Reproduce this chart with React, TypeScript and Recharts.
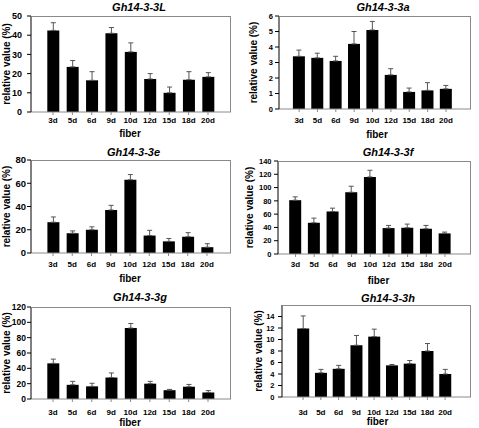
import { Bar, BarChart, ErrorBar, XAxis, YAxis } from "recharts";

const days = ["3d", "5d", "6d", "9d", "10d", "12d", "15d", "18d", "20d"];

const values3L = [42.5, 23.5, 16.5, 41, 31.3, 17.2, 10, 16.8, 18.3];
const errors3L = [4, 3.3, 4.5, 3, 4.7, 2.8, 3, 4.2, 2.2];
const ticks3L = [0, 10, 20, 30, 40, 50];

const values3a = [3.4, 3.3, 3.1, 4.2, 5.1, 2.2, 1.1, 1.2, 1.3];
const errors3a = [0.4, 0.3, 0.3, 0.8, 0.55, 0.4, 0.25, 0.5, 0.22];
const ticks3a = [0, 1, 2, 3, 4, 5, 6];

const values3e = [26.5, 17, 20, 37, 63, 15, 10, 14, 5];
const errors3e = [4.5, 2, 2.5, 4, 4.5, 4.5, 2.5, 3.5, 3];
const ticks3e = [0, 20, 40, 60, 80];

const values3f = [81, 47, 64, 93, 116, 39, 39.5, 38, 31];
const errors3f = [5, 7, 5, 9, 10, 4, 5.5, 5, 2];
const ticks3f = [0, 20, 40, 60, 80, 100, 120, 140];

const values3g = [46.5, 18.5, 16.5, 28, 92.5, 20, 11.5, 16, 8.5];
const errors3g = [5.5, 4.5, 4, 6, 6, 3, 1, 3, 2.5];
const ticks3g = [0, 20, 40, 60, 80, 100, 120];

const values3h = [11.9, 4.2, 4.9, 9, 10.5, 5.5, 5.8, 8, 4];
const errors3h = [2.2, 0.6, 0.6, 1.7, 1.3, 0.15, 0.55, 1.3, 0.8];
const ticks3h = [0, 2, 4, 6, 8, 10, 12, 14];

type Panel = {
  title: string;
  values: number[];
  errors: number[];
  ticks: number[];
  max: number;
  box: [number, number, number, number]; // left, top, width, height
  plot: [number, number, number, number]; // x0, y0, x1, y1
  pad: [number, number];
  titleX: number;
  titleBase: number;
  fiberBase: number;
  fiberDx: number;
  yLabelX: number;
  xTickGap: number;
  yTickGap: number;
  yTickFont: number;
};

const panels: Panel[] = [
  {
    title: "Gh14-3-3L", values: values3L, errors: errors3L, ticks: ticks3L, max: 50,
    box: [0, 0, 240, 143], plot: [31, 16, 231, 112], pad: [12.3, 13.3],
    titleX: 139, titleBase: 10.7, fiberBase: 137, fiberDx: -1, yLabelX: 6, xTickGap: 5, yTickGap: 9, yTickFont: 9,
  },
  {
    title: "Gh14-3-3a", values: values3a, errors: errors3a, ticks: ticks3a, max: 6,
    box: [240, 0, 239, 143], plot: [279, 16, 471, 109], pad: [10.9, 15.8],
    titleX: 383, titleBase: 10.7, fiberBase: 137.5, fiberDx: 2, yLabelX: 253, xTickGap: 8, yTickGap: 6, yTickFont: 7.5,
  },
  {
    title: "Gh14-3-3e", values: values3e, errors: errors3e, ticks: ticks3e, max: 80,
    box: [0, 143, 240, 143], plot: [31, 160, 231, 253], pad: [12.4, 14.4],
    titleX: 133.5, titleBase: 155.7, fiberBase: 282, fiberDx: -1, yLabelX: 6, xTickGap: 8, yTickGap: 5, yTickFont: 9.5,
  },
  {
    title: "Gh14-3-3f", values: values3f, errors: errors3f, ticks: ticks3f, max: 140,
    box: [240, 143, 239, 143], plot: [278, 161, 471, 254], pad: [8.2, 16.7],
    titleX: 388, titleBase: 155.7, fiberBase: 283.5, fiberDx: 4, yLabelX: 249, xTickGap: 7, yTickGap: 6.5, yTickFont: 7.5,
  },
  {
    title: "Gh14-3-3g", values: values3g, errors: errors3g, ticks: ticks3g, max: 120,
    box: [0, 286, 240, 142], plot: [31, 307, 231, 399], pad: [12.3, 13.3],
    titleX: 140, titleBase: 301, fiberBase: 425.5, fiberDx: -1, yLabelX: 6, xTickGap: 10, yTickGap: 5, yTickFont: 8.5,
  },
  {
    title: "Gh14-3-3h", values: values3h, errors: errors3h, ticks: ticks3h, max: 16,
    box: [240, 286, 239, 142], plot: [282, 305, 471, 397], pad: [12.2, 17],
    titleX: 388, titleBase: 302, fiberBase: 425, fiberDx: 1, yLabelX: 258, xTickGap: 12, yTickGap: 7.5, yTickFont: 7.5,
  },
];

const frame = "#8a8a8a";

function GenePanel({ p }: { p: Panel }) {
  const [left, top, width, height] = p.box;
  const [x0, y0, x1, y1] = p.plot;
  const data = days.map((day, i) => ({ day, value: p.values[i], err: [0, p.errors[i]] }));
  return (
    <>
      <div style={{ position: "absolute", left, top, width, height }}>
        <BarChart
          width={width}
          height={height}
          data={data}
          margin={{ top: y0 - top, right: left + width - x1, bottom: 0, left: 0 }}
        >
          <XAxis
            dataKey="day"
            interval={0}
            height={top + height - y1}
            padding={{ left: p.pad[0], right: p.pad[1] }}
            stroke={frame}
            tickSize={3}
            tickMargin={p.xTickGap - 3}
            tick={{ fontSize: 8, fill: "#000" }}
            label={{ value: "fiber", position: "insideBottom", offset: top + height - p.fiberBase, dx: p.fiberDx, fontSize: 10, fill: "#000" }}
          />
          <YAxis
            type="number"
            domain={[0, p.max]}
            ticks={p.ticks}
            interval={0}
            width={x0 - left}
            stroke="#000"
            tickSize={4}
            tickMargin={p.yTickGap - 4}
            tick={{ fontSize: p.yTickFont, fill: "#000" }}
            label={{ value: "relative value (%)", angle: -90, position: "insideLeft", offset: p.yLabelX - left, fontSize: 10, fill: "#000", style: { textAnchor: "middle" } }}
          />
          <Bar dataKey="value" fill="#000" barSize={12} isAnimationActive={false}>
            <ErrorBar dataKey="err" direction="y" width={2.5} stroke="#555" strokeWidth={1} isAnimationActive={false} />
          </Bar>
        </BarChart>
      </div>
      <div
        style={{
          position: "absolute",
          left: x0,
          top: y0,
          width: x1 - x0,
          height: y1 - y0,
          boxSizing: "border-box",
          borderTop: `1px solid ${frame}`,
          borderRight: `1px solid ${frame}`,
          pointerEvents: "none",
        }}
      />
      <div
        style={{
          position: "absolute",
          left: p.titleX - 60,
          top: p.titleBase - 9.1,
          width: 120,
          textAlign: "center",
          fontSize: 11,
          lineHeight: "11px",
          fontStyle: "italic",
          whiteSpace: "nowrap",
        }}
      >
        {p.title}
      </div>
    </>
  );
}

export default function App() {
  return (
    <div
      style={{
        position: "absolute",
        left: 0,
        top: 0,
        width: 479,
        height: 428,
        background: "#fff",
        fontFamily: "'Liberation Sans', Arial, sans-serif",
        fontWeight: "bold",
      }}
    >
      {panels.map((p) => (
        <GenePanel key={p.title} p={p} />
      ))}
    </div>
  );
}
